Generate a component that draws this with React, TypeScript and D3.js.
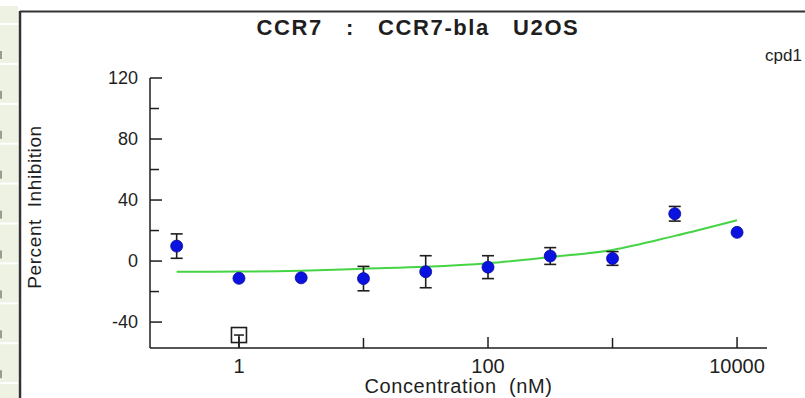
import { useEffect } from "react"
import * as d3 from "d3"

// concentrations (nM), mean % inhibition and error (SD)
const concentrations = [0.316, 1, 3.16, 10, 31.6, 100, 316, 1000, 3160, 10000]
const inhibition = [9.8, -11.3, -11, -11.5, -7, -4, 3.3, 1.7, 31, 18.8]
const errors = [8, 0, 0, 8, 10.5, 7.5, 5.5, 4.5, 4.8, 0]

// excluded point
const outlierConc = [1]
const outlierValue = [-48.5]

// fitted curve
const fitConc = [0.316, 1, 3.16, 10, 31.6, 100, 316, 1000, 3160, 10000]
const fitValue = [-7, -6.9, -6.3, -5, -3.8, -1.5, 2.6, 7.3, 16.5, 26.8]

const xMajor = [1, 100, 10000]
const xMinor = [10, 1000]
const yMajor = [-40, 0, 40, 80, 120]
const yMinor = [-20, 20, 60, 100]

const title = "CCR7   :   CCR7-bla   U2OS"
const legendLabel = "cpd1"

const W = 805
const H = 398
const font = "'Liberation Sans', Arial, sans-serif"
const ink = "#1e1e1e"

export default function App() {
    useEffect(() => {
        document.body.style.margin = "0"
    }, [])

    const x = d3.scaleLog().domain([0.193, 17400]).range([150, 767])
    const y = d3.scaleLinear().domain([-57, 120]).range([348, 78])

    const line = d3.line<number>()
        .x((_, i) => x(fitConc[i]))
        .y(d => y(d))
        .curve(d3.curveMonotoneX)

    const strip = d3.range(0, 11).map(i => (i === 0 ? 5 : 24 + (i - 1) * 39.9))

    return (
        <svg width={W} height={H} style={{ display: "block", background: "#fff" }}>
            {/* left strip */}
            {strip.map((s, i) => {
                const next = i < strip.length - 1 ? strip[i + 1] : H + 2
                return (
                    <g key={i}>
                        <rect x={0} y={s + 1} width={18} height={next - s - 2} fill="#eef2e3" />
                        {i > 0 && <rect x={0} y={s + 27} width={2} height={8} fill="#9a9c94" />}
                    </g>
                )
            })}
            {/* frame */}
            <line x1={20} y1={11.5} x2={W} y2={11.5} stroke="#333" strokeWidth={2} />
            <line x1={20} y1={11} x2={20} y2={H} stroke="#333" strokeWidth={2.5} />

            <text x={418} y={35} textAnchor="middle" fontFamily={font} fontWeight="bold" fontSize={22}
                letterSpacing={1.6} fill={ink} style={{ whiteSpace: "pre" }}>{title}</text>
            <text x={765} y={61} fontFamily={font} fontSize={17} fill={ink}>{legendLabel}</text>

            {/* y axis */}
            <line x1={150} y1={y(120)} x2={150} y2={y(-57)} stroke={ink} strokeWidth={1.5} />
            {yMajor.map(v => (
                <g key={v}>
                    <line x1={150} x2={162} y1={y(v)} y2={y(v)} stroke={ink} strokeWidth={1.5} />
                    <text x={138} y={y(v)} dy="0.35em" textAnchor="end" fontFamily={font} fontSize={18} fill={ink}>{v}</text>
                </g>
            ))}
            {yMinor.map(v => (
                <line key={v} x1={150} x2={159} y1={y(v)} y2={y(v)} stroke={ink} strokeWidth={1.5} />
            ))}
            <text transform={`translate(41,207) rotate(-90)`} textAnchor="middle"
                fontFamily={font} fontSize={19} letterSpacing={0.6} fill={ink} style={{ whiteSpace: "pre" }}>Percent  Inhibition</text>

            {/* x axis */}
            <line x1={150} x2={767} y1={348} y2={348} stroke={ink} strokeWidth={1.5} />
            {xMajor.map(v => (
                <g key={v}>
                    <line x1={x(v)} x2={x(v)} y1={348} y2={337} stroke={ink} strokeWidth={1.5} />
                    <text x={x(v)} y={373} textAnchor="middle" fontFamily={font} fontSize={20} fill={ink}>{v}</text>
                </g>
            ))}
            {xMinor.map(v => (
                <line key={v} x1={x(v)} x2={x(v)} y1={348} y2={338} stroke={ink} strokeWidth={1.5} />
            ))}
            <text x={(150 + 767) / 2} y={393} textAnchor="middle" fontFamily={font} fontSize={20} letterSpacing={0.6} fill={ink}
                style={{ whiteSpace: "pre" }}>Concentration  (nM)</text>

            {/* fit */}
            <path d={line(fitValue) ?? ""} fill="none" stroke="#44d444" strokeWidth={2} />

            {/* outlier */}
            {outlierConc.map((c, i) => (
                <g key={i}>
                    <rect x={x(c) - 7.5} y={y(outlierValue[i]) - 7.5} width={15} height={15} fill="none" stroke={ink} strokeWidth={1.6} />
                    <line x1={x(c) - 5} x2={x(c) + 5} y1={y(outlierValue[i])} y2={y(outlierValue[i])} stroke={ink} strokeWidth={1.5} />
                    <line x1={x(c)} x2={x(c)} y1={y(outlierValue[i])} y2={348} stroke={ink} strokeWidth={1.5} />
                </g>
            ))}

            {/* error bars */}
            {concentrations.map((c, i) => errors[i] > 0 && (
                <g key={i} stroke={ink} strokeWidth={1.6}>
                    <line x1={x(c)} x2={x(c)} y1={y(inhibition[i] + errors[i])} y2={y(inhibition[i] - errors[i])} />
                    <line x1={x(c) - 6} x2={x(c) + 6} y1={y(inhibition[i] + errors[i])} y2={y(inhibition[i] + errors[i])} />
                    <line x1={x(c) - 6} x2={x(c) + 6} y1={y(inhibition[i] - errors[i])} y2={y(inhibition[i] - errors[i])} />
                </g>
            ))}

            {/* points */}
            {concentrations.map((c, i) => (
                <circle key={i} cx={x(c)} cy={y(inhibition[i])} r={6} fill="#0a12e0" stroke="#0a0a9a" strokeWidth={0.8} />
            ))}
        </svg>
    )
}
